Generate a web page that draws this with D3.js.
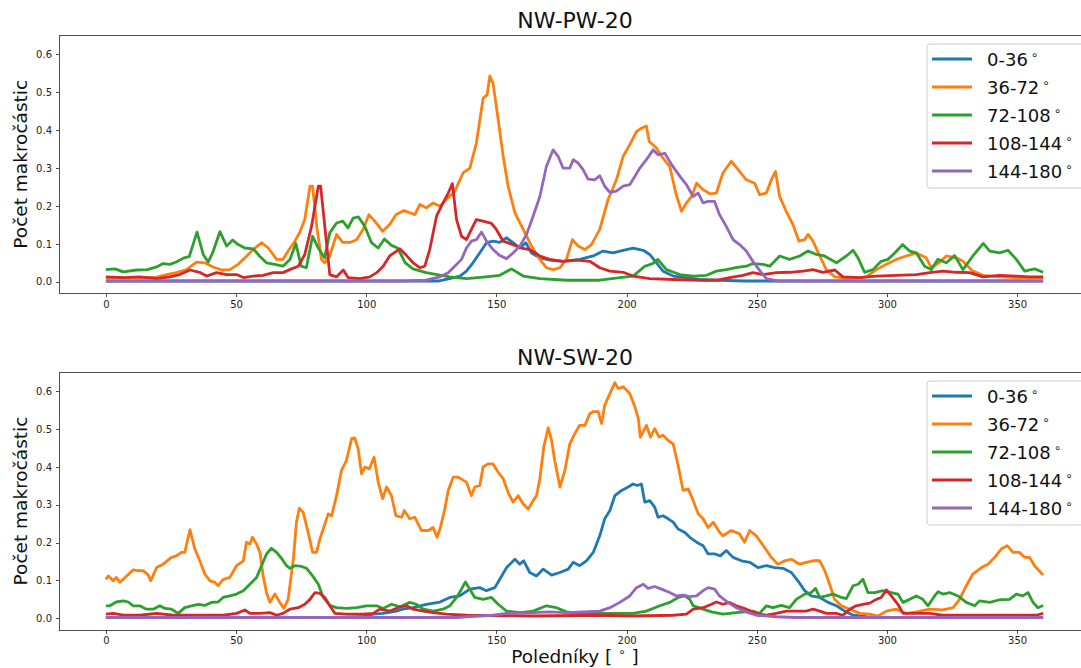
<!DOCTYPE html>
<html lang="cs">
<head>
<meta charset="UTF-8">
<title>NW-PW-20 / NW-SW-20</title>
<script src="https://cdn.jsdelivr.net/npm/d3@7/dist/d3.min.js"></script>
<style>
  body { margin: 0; background: #fff; }
  svg { display: block; font-family: "DejaVu Sans", sans-serif; }
  .axis path, .axis line { stroke: #222; stroke-width: 0.8; shape-rendering: crispEdges; }
  .axis text { font-size: 10px; fill: #222; font-family: "DejaVu Sans", sans-serif; }
</style>
</head>
<body>
<script>
// názvy skupin a popisky
var labels = ["0-36", "36-72", "72-108", "108-144", "144-180"];
var colors = ["#1f77b4", "#ff7f0e", "#2ca02c", "#d62728", "#9467bd"];
var xTicks = [0, 50, 100, 150, 200, 250, 300, 350];
var yTicks = [0, 0.1, 0.2, 0.3, 0.4, 0.5, 0.6];

// NW-PW-20: [poledník, počet]
var pw0 = [[0,.002],[128,.002],[132,.008],[136,.015],[138.5,.028],[141,.05],[143.6,.076],[146.2,.103],[148.7,.107],[151.3,.104],[153.9,.116],[156.4,.103],[159,.089],[161.3,.103],[163.5,.076],[166.7,.063],[170.5,.057],[175.6,.054],[182,.059],[187.2,.068],[191,.081],[194.8,.076],[198.7,.083],[202.5,.089],[206.4,.083],[208.9,.072],[211.5,.05],[214,.028],[217.9,.015],[223,.011],[228.1,.006],[235.8,.004],[245,.002],[360,.002]];
var pw36 = [[0,.011],[13,.011],[19.5,.012],[23.3,.019],[27,.024],[31,.032],[34.8,.052],[38,.05],[41.2,.039],[44.4,.031],[47.6,.032],[50.8,.046],[53.4,.063],[56.6,.085],[59.8,.103],[62.4,.089],[65.6,.059],[68,.059],[70,.081],[72.6,.107],[74.5,.131],[76.4,.164],[78.4,.252],[79.4,.252],[81,.146],[82.8,.059],[84,.05],[86,.068],[88.6,.125],[91,.104],[94,.104],[96.3,.111],[98.8,.138],[101,.177],[103.3,.16],[106.3,.133],[109,.151],[111.4,.177],[114.5,.188],[118.7,.177],[120.6,.204],[123.1,.195],[125.7,.208],[128.3,.199],[130.8,.217],[134,.239],[137.2,.287],[139.8,.3],[142.3,.366],[144.9,.484],[146.4,.493],[147.5,.543],[148.7,.524],[150.7,.427],[152.6,.331],[154.5,.252],[157.1,.182],[160.3,.138],[163.5,.094],[166.7,.059],[169.2,.037],[171.8,.032],[174.4,.037],[176.9,.059],[179.2,.111],[181.4,.094],[184,.085],[186.5,.098],[189.7,.138],[192.9,.217],[196.1,.269],[198.7,.331],[201.2,.361],[203.8,.396],[205.7,.405],[207.6,.411],[208.7,.37],[211.5,.353],[214,.326],[216.6,.304],[218.9,.234],[221.1,.186],[223,.208],[225,.225],[226.9,.26],[229.4,.243],[232,.232],[234.5,.234],[237,.287],[240.2,.318],[243.4,.291],[246,.269],[249.2,.26],[251.1,.23],[253.7,.234],[255.6,.269],[257.2,.291],[258.8,.225],[261.3,.186],[263.9,.151],[266.2,.107],[268.4,.111],[269.7,.125],[271.6,.107],[274.2,.068],[276.7,.032],[280,.013],[285.7,.008],[292.1,.013],[295.9,.032],[299.8,.046],[303.6,.059],[307.4,.068],[311.3,.076],[315.1,.063],[317,.037],[320.3,.052],[322.8,.068],[326.6,.063],[329.2,.054],[333,.028],[336.9,.017],[343.3,.013],[349.7,.011],[360,.011]];
var pw72 = [[0,.032],[3.5,.034],[6.7,.026],[11.8,.031],[16,.032],[19.5,.039],[22,.048],[24.6,.046],[27,.052],[30,.063],[32,.066],[35,.131],[37.4,.072],[39.3,.052],[41,.076],[43.8,.132],[46.4,.094],[48.7,.11],[50.8,.098],[53.4,.089],[56.6,.087],[59,.068],[61.7,.05],[64.9,.046],[68,.041],[70.7,.059],[73,.101],[75,.041],[77,.037],[79.4,.12],[81.6,.089],[84,.063],[86,.129],[88.6,.155],[91,.16],[93,.142],[95,.168],[97,.171],[99.5,.146],[102,.103],[104.6,.089],[107,.113],[109.7,.096],[112,.089],[113.5,.07],[115,.05],[118,.034],[123,.024],[132,.013],[138.5,.008],[146,.013],[151.3,.017],[155.8,.034],[160.3,.015],[166.7,.008],[177,.004],[189.7,.004],[197.4,.011],[202.5,.015],[207,.041],[210,.048],[212,.059],[215.3,.032],[220.4,.019],[225.6,.015],[230.7,.017],[234.5,.028],[238.3,.032],[242,.037],[246,.041],[248.5,.048],[252.4,.046],[255,.041],[258.8,.068],[262.6,.059],[266.5,.068],[269.7,.081],[272.9,.072],[276,.068],[280.6,.05],[284.4,.068],[287,.083],[288.9,.063],[291.4,.025],[294.6,.032],[297.8,.054],[300.4,.059],[303,.076],[306,.098],[308.7,.081],[311.3,.076],[314.5,.041],[317,.032],[319.6,.059],[322.8,.05],[326,.069],[329.2,.032],[333,.068],[337,.101],[339.5,.081],[343.3,.076],[346.5,.083],[349.7,.059],[352.9,.028],[356.7,.034],[360,.025]];
var pw108 = [[0,.013],[6.7,.011],[13,.013],[19.5,.008],[24.6,.013],[28.4,.019],[32.3,.031],[36,.025],[38.7,.015],[42.5,.024],[46.4,.019],[50.2,.019],[52.8,.011],[56.6,.015],[60.4,.017],[64.3,.024],[68,.024],[71.3,.034],[73.9,.041],[76.4,.072],[79,.146],[81.6,.252],[82.5,.252],[84.1,.146],[86,.019],[88.6,.013],[91.2,.031],[93,.011],[97.6,.008],[101.4,.013],[104,.024],[106.5,.041],[109,.068],[112.9,.087],[115.5,.069],[118,.05],[120.6,.037],[122.5,.041],[124.4,.085],[127,.173],[129.5,.208],[131.5,.234],[133.1,.259],[134.7,.164],[136.6,.12],[138.5,.111],[140.4,.138],[142.3,.164],[144.9,.16],[148.1,.154],[150,.138],[152.6,.107],[156.4,.098],[159.6,.089],[162.8,.085],[166.7,.068],[170.5,.059],[175.6,.054],[180.8,.057],[185.9,.054],[189.7,.037],[193.6,.028],[198.7,.025],[202.5,.015],[208.9,.008],[217.9,.006],[228.1,.004],[235,.004],[239.6,.011],[244.7,.017],[248.5,.024],[252.4,.019],[257.5,.024],[262.6,.025],[267.8,.028],[271.6,.032],[275.4,.025],[280,.031],[283.1,.013],[289.5,.011],[295.9,.015],[303.6,.017],[311.3,.019],[316.4,.024],[321.5,.028],[326.6,.025],[331.8,.024],[336.9,.013],[343.3,.017],[349.7,.015],[354.8,.013],[360,.013]];
var pw144 = [[0,.002],[115,.002],[123,.004],[128.3,.013],[131.5,.024],[134,.041],[136.6,.059],[138.5,.089],[140.4,.107],[142.3,.111],[144.3,.131],[146.2,.107],[148.7,.085],[151.3,.069],[153.9,.061],[156.4,.076],[159,.094],[161.6,.125],[164.1,.173],[166.7,.225],[169.2,.304],[171.8,.348],[173.7,.331],[175.6,.3],[178.2,.3],[179.5,.322],[181.4,.313],[183.3,.296],[185.2,.271],[187.8,.269],[189.7,.28],[191.6,.252],[193.6,.236],[196.1,.239],[198.7,.252],[201.2,.256],[203.2,.278],[205.1,.3],[207.6,.322],[210.2,.348],[212.1,.335],[214.7,.339],[217.3,.309],[220.5,.278],[223,.256],[225.6,.225],[227.5,.234],[229.4,.208],[231.3,.212],[233.8,.212],[235.7,.177],[238.3,.146],[240.9,.111],[243.4,.098],[246,.081],[248.5,.054],[251.1,.03],[253.7,.008],[258,.002],[360,.002]];

// NW-SW-20
var sw0 = [[0,.002],[90,.002],[98.8,.004],[102.7,.011],[106.5,.013],[111.6,.019],[114,.024],[118,.028],[123.1,.037],[128.3,.043],[132.1,.055],[135.9,.059],[139.8,.077],[143.6,.081],[146.2,.073],[149.4,.081],[151.3,.103],[153.9,.134],[157.1,.156],[159,.143],[160.5,.152],[162.8,.121],[165.4,.112],[168,.13],[171.2,.114],[174.4,.121],[177.6,.13],[179.5,.148],[182,.139],[184.6,.152],[187.2,.174],[189.7,.218],[191.6,.263],[193.6,.285],[195.5,.324],[198.1,.338],[200.6,.347],[202.5,.355],[204.1,.351],[205.7,.355],[207,.307],[208.9,.311],[210.8,.294],[212.1,.267],[214,.271],[216,.263],[217.9,.254],[219.8,.236],[222.4,.227],[224.3,.214],[226.9,.201],[229.4,.192],[231.3,.17],[233.9,.17],[236,.165],[238.3,.179],[240.9,.161],[244.1,.152],[247.3,.148],[250.5,.134],[253.7,.139],[256.9,.134],[260.1,.132],[263.3,.121],[265.8,.099],[268.4,.073],[270.9,.059],[274.2,.055],[277.4,.042],[280.6,.033],[283.8,.019],[287,.008],[292.1,.004],[298,.002],[360,.002]];
var sw36 = [[0,.103],[1,.112],[2.8,.099],[4,.108],[5.4,.095],[8,.112],[10.5,.128],[12.4,.126],[14.3,.126],[16.3,.114],[17.2,.099],[19.5,.134],[22,.143],[25.2,.161],[27.1,.165],[29,.174],[30.3,.174],[32.3,.234],[34.2,.183],[36.1,.152],[38,.117],[40,.099],[41.9,.095],[43.1,.086],[45,.102],[47.6,.108],[50.2,.139],[52.8,.152],[54,.201],[55.3,.196],[56.3,.214],[57.9,.196],[59.2,.174],[60.4,.112],[61.7,.068],[63,.042],[64.9,.064],[66.8,.042],[68.4,.026],[70,.05],[72,.156],[73.2,.254],[74.3,.291],[75.8,.28],[77.7,.227],[79.4,.174],[80.9,.174],[82.2,.21],[84.1,.249],[85.4,.276],[86.7,.271],[88.6,.324],[90.5,.391],[92.4,.417],[94.4,.475],[95.6,.477],[96.9,.448],[98.2,.382],[99.5,.4],[101.2,.395],[103,.426],[104.6,.36],[106.3,.316],[107.8,.347],[109.7,.324],[111.4,.271],[113.6,.267],[114.6,.285],[116.7,.263],[118.7,.267],[121.2,.232],[123.8,.232],[125.7,.24],[127.2,.214],[128.5,.24],[130.2,.289],[131.5,.338],[133.4,.373],[135.3,.373],[138.5,.36],[140.4,.324],[141.7,.347],[143.6,.351],[144.9,.4],[146.8,.408],[148.7,.408],[150.7,.386],[152.6,.369],[154.5,.333],[156.4,.307],[158.4,.324],[160.3,.302],[162.2,.289],[164.1,.311],[165.4,.324],[166.7,.369],[168.2,.453],[169.9,.503],[171.2,.47],[172.4,.417],[174.4,.347],[176.3,.391],[178.2,.461],[180.1,.488],[182,.51],[184,.51],[185.9,.541],[187.2,.546],[189.1,.546],[190.4,.515],[191.6,.563],[193.6,.594],[195.5,.623],[196.8,.607],[198.7,.612],[201.2,.594],[203.2,.559],[204.5,.528],[205.3,.479],[207.6,.51],[209.2,.479],[210.8,.501],[212.5,.479],[214,.484],[216,.47],[217.9,.461],[219.8,.404],[221.7,.338],[223.7,.342],[225.6,.311],[227.5,.276],[229.4,.263],[231.3,.24],[233.3,.254],[235.8,.227],[237,.218],[240.2,.232],[243.4,.223],[245.3,.201],[247.3,.232],[249.8,.218],[253,.187],[255.6,.161],[258.1,.143],[260.7,.152],[263.3,.156],[266.5,.143],[269,.148],[271.6,.152],[274.2,.152],[276.1,.126],[278,.09],[279.9,.05],[282.5,.033],[285.7,.024],[289.5,.013],[293.4,.011],[296.6,.006],[299.8,.019],[303.6,.024],[307.4,.013],[311.3,.017],[316.4,.024],[321.5,.022],[325.4,.028],[327.9,.05],[330.5,.086],[333,.117],[336.3,.134],[338.8,.143],[341.4,.161],[343.9,.183],[346.2,.192],[348.4,.174],[351,.174],[352.9,.161],[354.8,.161],[356.7,.139],[360,.114]];
var sw72 = [[0,.033],[1.5,.033],[4,.043],[6.7,.046],[8.6,.043],[10.5,.033],[13,.033],[15.6,.024],[18.2,.024],[20.7,.033],[22.7,.026],[25.2,.024],[27.8,.013],[30.3,.028],[32.9,.033],[35.5,.037],[38,.034],[40.6,.042],[43.1,.043],[45,.055],[47.6,.059],[50.2,.064],[52.8,.073],[55.3,.09],[57.9,.108],[59.8,.139],[61.7,.17],[63.6,.185],[65.6,.174],[67.5,.158],[69.4,.139],[70.7,.132],[72.6,.139],[75.2,.137],[77.1,.132],[79.4,.112],[81.6,.09],[83.5,.055],[86,.034],[88.6,.028],[92.4,.026],[96.3,.028],[100.1,.033],[104,.033],[106.5,.026],[109.7,.037],[112.9,.03],[116.7,.042],[119.3,.037],[121.9,.024],[125.7,.019],[129.5,.024],[132.1,.033],[134.7,.055],[136.6,.077],[138.1,.096],[139.8,.077],[141.7,.055],[144.9,.05],[148.1,.055],[150.7,.037],[153.9,.019],[159,.015],[164.1,.019],[169.2,.033],[173.1,.028],[176.9,.017],[182,.013],[202.5,.013],[207.6,.019],[212.8,.033],[216.6,.042],[219.8,.055],[222.4,.059],[224.3,.05],[225.6,.033],[229.4,.024],[232.6,.017],[237,.011],[242.1,.015],[248.5,.019],[251.1,.013],[253.7,.033],[256.2,.028],[259.4,.034],[262.6,.028],[265.2,.05],[268.4,.064],[270.9,.068],[272.6,.079],[274.2,.055],[276.7,.059],[279.3,.064],[282.5,.055],[284.4,.052],[287,.086],[288.9,.09],[290.8,.103],[292.7,.068],[295.3,.068],[298.5,.073],[301.7,.068],[304.2,.064],[306.2,.042],[308.7,.05],[311.3,.059],[313.8,.05],[315.8,.033],[318.3,.059],[319.6,.07],[321.5,.064],[324.1,.068],[327.3,.059],[330.5,.042],[333.7,.033],[335.6,.046],[339.5,.042],[343.3,.049],[347.1,.05],[349.7,.064],[352.2,.059],[354.2,.068],[356.1,.042],[358,.028],[360,.034]];
var sw108 = [[0,.011],[2.8,.013],[6.7,.008],[13,.008],[19.5,.013],[25.9,.008],[45,.008],[50.2,.013],[53.4,.022],[55.3,.013],[59.2,.013],[63,.015],[65.6,.008],[68,.013],[70.7,.024],[73.9,.028],[76.4,.037],[78.4,.05],[80.3,.068],[82.2,.066],[84.1,.055],[86,.033],[88,.013],[92.4,.011],[98.8,.011],[102.7,.013],[105.2,.024],[109.1,.019],[112.9,.03],[115.5,.033],[118,.024],[121.9,.019],[125.7,.015],[130.8,.011],[138.5,.008],[164.1,.006],[189.7,.008],[202.5,.006],[217.9,.008],[223,.011],[225.6,.024],[229.4,.028],[232.6,.037],[234.5,.043],[237,.037],[239.6,.042],[242.1,.033],[246,.024],[249.8,.013],[253.7,.008],[257.5,.013],[261.3,.019],[269,.019],[271.6,.024],[274.2,.019],[276.7,.013],[280.5,.013],[283.1,.008],[285.7,.024],[288.2,.033],[290.8,.037],[293.4,.04],[295.9,.05],[297.8,.055],[299.8,.075],[301.7,.059],[304.2,.037],[306.2,.013],[316.4,.013],[321.5,.008],[357.4,.008],[360,.013]];
var sw144 = [[0,.002],[135,.002],[138.5,.004],[148.7,.008],[153.9,.013],[164.1,.015],[170.5,.017],[176.9,.015],[183.3,.017],[189.7,.019],[193.6,.028],[197.4,.042],[201.2,.059],[203.8,.081],[206.4,.09],[208.3,.079],[210.8,.084],[213.4,.077],[216.6,.068],[219.2,.059],[221.7,.061],[224.3,.057],[226.9,.059],[229.4,.073],[231.3,.081],[233.8,.077],[235.7,.059],[238.9,.042],[242.1,.028],[246,.017],[249.8,.008],[257.5,.004],[265,.002],[360,.002]];

var width = 1081, height = 668;
var svg = d3.select("body").append("svg")
    .attr("width", width)
    .attr("height", height);

// společná osa x, osa y pro každý panel zvlášť
var x = d3.scaleLinear().domain([-18, 378]).range([59, 1090]);

var panels = [
    {title: "NW-PW-20", series: [pw0, pw36, pw72, pw108, pw144], top: 35, bottom: 293.5, xlabel: false},
    {title: "NW-SW-20", series: [sw0, sw36, sw72, sw108, sw144], top: 372, bottom: 630, xlabel: true}
];

panels.forEach(function (p, k) {
    var y = d3.scaleLinear().domain([-0.031, 0.651]).range([p.bottom, p.top]);
    var g = svg.append("g");

    g.append("clipPath").attr("id", "clip" + k)
        .append("rect")
        .attr("x", x.range()[0]).attr("y", p.top)
        .attr("width", x.range()[1] - x.range()[0])
        .attr("height", p.bottom - p.top);

    var line = d3.line()
        .x(function (d) { return x(d[0]); })
        .y(function (d) { return y(d[1]); });

    g.append("g").attr("clip-path", "url(#clip" + k + ")")
        .selectAll("path")
        .data(p.series)
        .enter()
        .append("path")
        .attr("d", line)
        .attr("fill", "none")
        .attr("stroke", function (d, i) { return colors[i]; })
        .attr("stroke-width", 2.8)
        .attr("stroke-linejoin", "round");

    // rámeček
    g.append("rect")
        .attr("x", x.range()[0]).attr("y", p.top)
        .attr("width", x.range()[1] - x.range()[0])
        .attr("height", p.bottom - p.top)
        .attr("fill", "none")
        .attr("stroke", "#222")
        .attr("stroke-width", 0.8)
        .attr("shape-rendering", "crispEdges");

    var xAxis = d3.axisBottom(x).tickValues(xTicks).tickSize(3.5).tickPadding(3.5).tickSizeOuter(0);
    g.append("g").attr("class", "axis")
        .attr("transform", "translate(0," + p.bottom + ")")
        .call(xAxis)
        .select(".domain").remove();

    var yAxis = d3.axisLeft(y).tickValues(yTicks).tickFormat(d3.format(".1f")).tickSize(3.5).tickPadding(3.5).tickSizeOuter(0);
    g.append("g").attr("class", "axis")
        .attr("transform", "translate(" + x.range()[0] + ",0)")
        .call(yAxis)
        .select(".domain").remove();

    g.append("text")
        .attr("x", 575).attr("y", p.top - 7)
        .attr("text-anchor", "middle")
        .attr("font-size", 22)
        .attr("fill", "#111")
        .text(p.title);

    g.append("text")
        .attr("transform", "translate(26.5," + (p.top + p.bottom) / 2 + ") rotate(-90)")
        .attr("text-anchor", "middle")
        .attr("font-size", 18.5)
        .attr("fill", "#111")
        .text("Počet makročástic");

    if (p.xlabel) {
        var xl = g.append("text")
            .attr("x", 575).attr("y", 663)
            .attr("text-anchor", "middle")
            .attr("font-size", 18.5)
            .attr("fill", "#111");
        xl.append("tspan").text("Poledníky [ ");
        xl.append("tspan").attr("font-size", 12).attr("dy", -7).text("∘");
        xl.append("tspan").attr("dy", 7).text(" ]");
    }

    // legenda
    var lg = g.append("g").attr("transform", "translate(927," + (p.top + 9) + ")");
    lg.append("rect")
        .attr("width", 170).attr("height", 144)
        .attr("rx", 3)
        .attr("fill", "#fff").attr("fill-opacity", 0.8)
        .attr("stroke", "#ccc").attr("stroke-width", 1);
    var rows = lg.selectAll("g.row")
        .data(labels)
        .enter()
        .append("g")
        .attr("class", "row")
        .attr("transform", function (d, i) { return "translate(0," + (15 + i * 28) + ")"; });
    rows.append("line")
        .attr("x1", 5).attr("x2", 45)
        .attr("stroke", function (d, i) { return colors[i]; })
        .attr("stroke-width", 3);
    var t = rows.append("text")
        .attr("x", 60).attr("y", 6.5)
        .attr("font-size", 18)
        .attr("fill", "#111");
    t.append("tspan").text(function (d) { return d; });
    t.append("tspan").attr("dx", 3).attr("dy", -7).attr("font-size", 12).text("∘");
});
</script>
</body>
</html>
